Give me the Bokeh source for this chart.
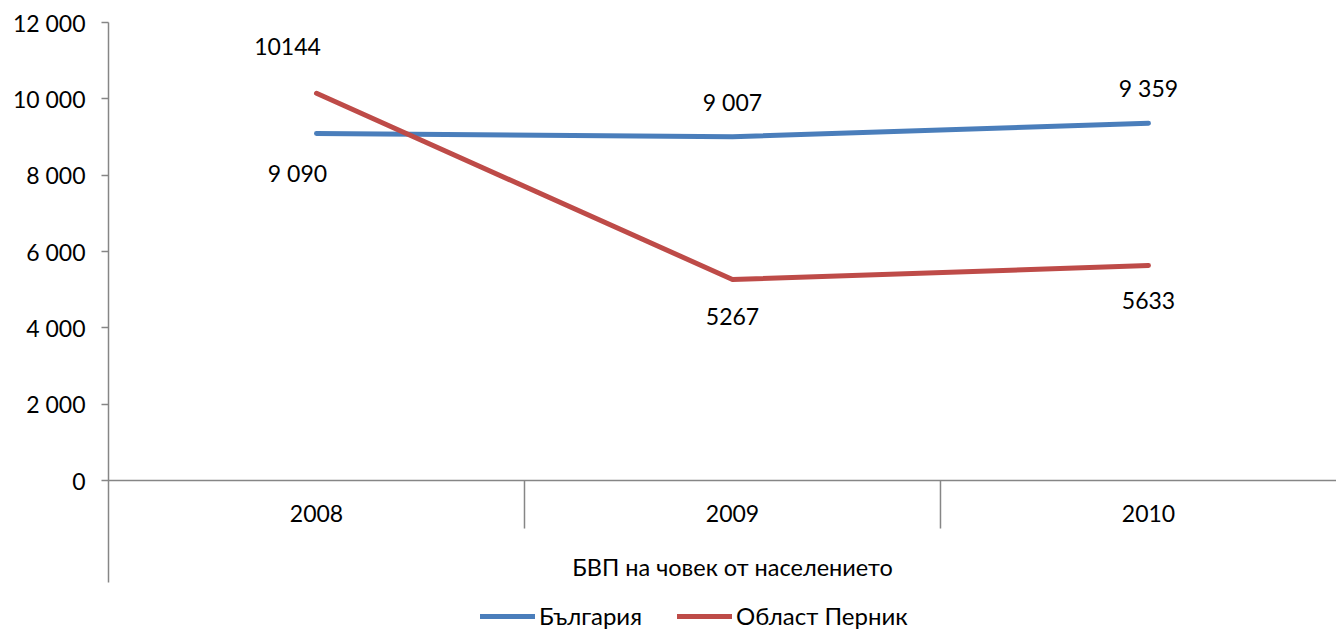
from bokeh.plotting import figure
from bokeh.models import Range1d, LinearAxis, FixedTicker, Span, Legend, LegendItem
from bokeh.core.properties import value
from bokeh.embed import file_html
from bokeh.resources import INLINE

# ---- data ----
years = ["2008", "2009", "2010"]
bulgaria = [9090, 9007, 9359]
pernik = [10144, 5267, 5633]
series_names = ["България", "Област Перник"]
group_label = "БВП на човек от населението"
y_ticks = [0, 2000, 4000, 6000, 8000, 10000, 12000]
y_tick_labels = ["0", "2 000", "4 000", "6 000", "8 000", "10 000", "12 000"]
bulgaria_labels = ["9 090", "9 007", "9 359"]
pernik_labels = ["10144", "5267", "5633"]

# ---- style ----
FONT = "Lato"
FS = "23px"
FS_TXT = "24px"
BLUE = "#4A7EBB"
RED = "#BE4B48"
AXIS = "#868686"
bul_xoff = [-19, 0, 0]
bul_yoff = [39, -35, -35]
per_xoff = [-29, 0, 0]
per_yoff = [-47, 37, 35]

xs = [i + 0.5 for i in range(len(years))]
bounds = list(range(1, len(years)))

p = figure(width=1336, height=631, output_backend="svg", toolbar_location=None,
           x_range=Range1d(0, 2.952), y_range=Range1d(-3956, 12000),
           min_border_left=108, min_border_right=0, min_border_top=22, min_border_bottom=0,
           x_axis_location=None, y_axis_location=None)
p.outline_line_color = None
p.background_fill_color = "white"
p.border_fill_color = "white"
p.grid.visible = False
p.renderers = [r for r in p.renderers if r.__class__.__name__ != "Grid"]

yaxis = LinearAxis(ticker=FixedTicker(ticks=y_ticks, minor_ticks=[]),
                   major_label_overrides=dict(zip(y_ticks, y_tick_labels)),
                   bounds=(-2672, 12000))
yaxis.axis_line_color = AXIS
yaxis.axis_line_width = 1.5
yaxis.major_tick_line_color = AXIS
yaxis.major_tick_line_width = 1.5
yaxis.major_tick_in = 0
yaxis.major_tick_out = 7
yaxis.minor_tick_line_color = None
yaxis.major_label_standoff = 16
yaxis.major_label_text_font = FONT
yaxis.major_label_text_font_size = FS
yaxis.major_label_text_color = "black"
p.add_layout(yaxis, "left")

# category axis line and separators
p.add_layout(Span(location=0, dimension="width", line_color=AXIS, line_width=1.5))
p.segment(x0=bounds, y0=[0] * len(bounds), x1=bounds, y1=[-1258] * len(bounds),
          line_color=AXIS, line_width=1.5)

# year labels and group label
p.text(x=xs, y=[0] * len(xs), text=years, y_offset=33,
       text_align="center", text_baseline="middle",
       text_font=value(FONT), text_font_size=FS, text_color="black")
p.text(x=[sum(xs) / len(xs)], y=[0], text=[group_label], y_offset=86,
       text_align="center", text_baseline="middle",
       text_font=value(FONT), text_font_size="23.5px", text_color="black")

# series
r1 = p.line(xs, bulgaria, line_color=BLUE, line_width=5, line_cap="round", line_join="round")
r2 = p.line(xs, pernik, line_color=RED, line_width=5, line_cap="round", line_join="round")

p.text(x=xs, y=bulgaria, text=bulgaria_labels, x_offset=bul_xoff, y_offset=bul_yoff,
       text_align="center", text_baseline="middle",
       text_font=value(FONT), text_font_size=FS, text_color="black")
p.text(x=xs, y=pernik, text=pernik_labels, x_offset=per_xoff, y_offset=per_yoff,
       text_align="center", text_baseline="middle",
       text_font=value(FONT), text_font_size=FS, text_color="black")

legend = Legend(items=[LegendItem(label=series_names[0], renderers=[r1]),
                       LegendItem(label=series_names[1], renderers=[r2])],
                location=(372, 1), orientation="horizontal",
                border_line_color=None, background_fill_alpha=0,
                padding=0, margin=0, spacing=35,
                glyph_width=55, glyph_height=22, label_height=22, label_standoff=4,
                label_text_font=FONT, label_text_font_size=FS_TXT, label_text_color="black")
p.add_layout(legend)

open("out.html", "w").write(file_html(p, INLINE))
